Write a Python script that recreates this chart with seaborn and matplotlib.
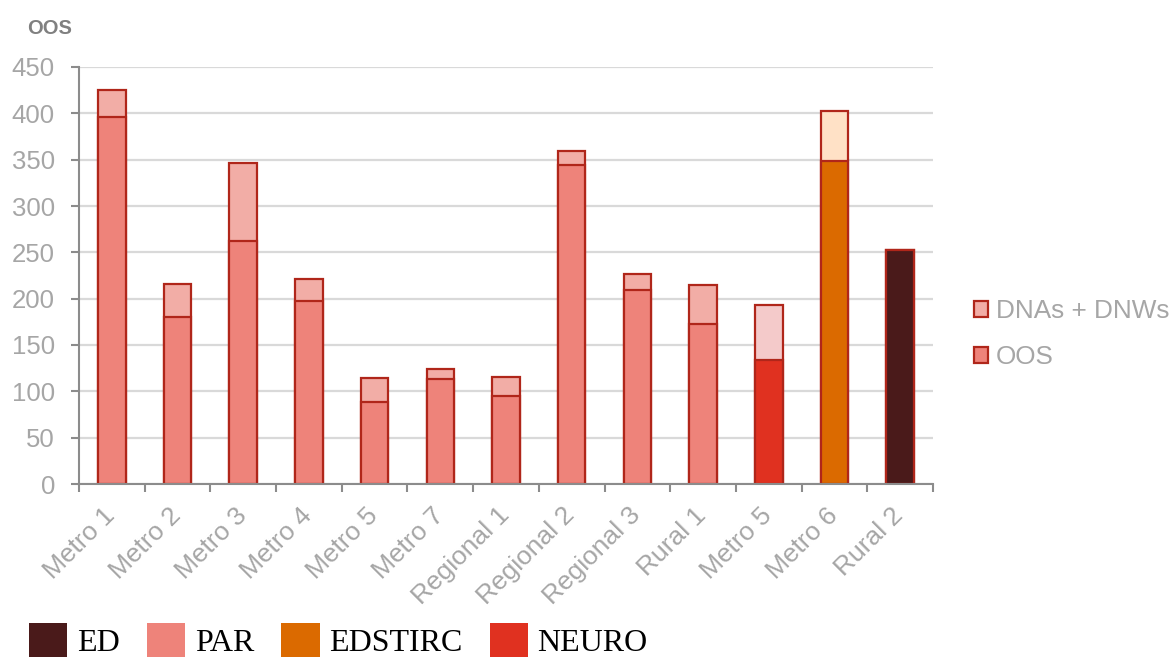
import matplotlib
matplotlib.use("Agg")
import matplotlib.pyplot as plt
import matplotlib.transforms as mtransforms
from matplotlib.patches import Patch
import seaborn as sns
import pandas as pd
import numpy as np

# ---- data ----
categories = ["Metro 1", "Metro 2", "Metro 3", "Metro 4", "Metro 5", "Metro 7",
              "Regional 1", "Regional 2", "Regional 3", "Rural 1", "Metro 5",
              "Metro 6", "Rural 2"]
oos_values = [396, 180, 262, 197, 88, 113, 95, 344, 209, 173, 134, 349, 252]
dna_values = [29, 36, 84, 24, 26, 11, 20, 15, 18, 42, 59, 54, 0]
groups = ["PAR"] * 10 + ["NEURO", "EDSTIRC", "ED"]
y_ticks = [0, 50, 100, 150, 200, 250, 300, 350, 400, 450]

main_colors = {"ED": "#4A1A1A", "PAR": "#EE837A", "EDSTIRC": "#DB6A00", "NEURO": "#E03120"}
dna_colors = {"ED": "#4A1A1A", "PAR": "#F2ADA6", "EDSTIRC": "#FFE1C6", "NEURO": "#F4CACA"}
edge = "#B0261A"

df = pd.DataFrame({
    "pos": list(range(len(categories))),
    "oos": oos_values,
    "total": [o + d for o, d in zip(oos_values, dna_values)],
    "group": groups,
})

sns.set_style("white")
plt.rcParams["font.family"] = ["Liberation Sans", "DejaVu Sans"]

fig = plt.figure(figsize=(11.73, 6.57), dpi=100)
ax = fig.add_axes([79 / 1173, 1 - 484 / 657, 854 / 1173, 417 / 657])

sns.barplot(data=df, x="pos", y="total", hue="group", palette=dna_colors,
            dodge=False, width=0.42, edgecolor=edge, linewidth=1.6,
            legend=False, ax=ax, errorbar=None, saturation=1)
sns.barplot(data=df, x="pos", y="oos", hue="group", palette=main_colors,
            dodge=False, width=0.42, edgecolor=edge, linewidth=1.6,
            legend=False, ax=ax, errorbar=None, saturation=1)

ax.set_xlim(-0.5, len(categories) - 0.5)
ax.set_ylim(0, 450)
ax.set_yticks(y_ticks)
ax.set_xlabel("")
ax.set_ylabel("")

grey_axis = "#8C8C8C"
tick_col = "#A6A6A6"
ax.set_axisbelow(True)
ax.yaxis.grid(True, color="#D9D9D9", linewidth=1.6)
ax.xaxis.grid(False)
for s in ["top", "right"]:
    ax.spines[s].set_visible(False)
for s in ["left", "bottom"]:
    ax.spines[s].set_color(grey_axis)
    ax.spines[s].set_linewidth(1.5)

ax.tick_params(axis="y", which="major", length=5.8, width=1.5, color=grey_axis,
               labelsize=18.5, labelcolor=tick_col, pad=11.5, left=True)

# x ticks: labels at bar centres, tick marks at category boundaries
ax.set_xticks(np.arange(len(categories)))
ax.set_xticklabels(categories, rotation=45, ha="right", va="baseline",
                   rotation_mode="anchor")
ax.set_xticks(np.arange(-0.5, len(categories), 1.0), minor=True)
ax.tick_params(axis="x", which="major", length=0, labelsize=19,
               labelcolor=tick_col, pad=23.5, bottom=True)
ax.tick_params(axis="x", which="minor", length=6, width=1.5, color=grey_axis,
               direction="out", bottom=True)
offset = mtransforms.ScaledTranslation(0.045, 0, fig.dpi_scale_trans)
for lab in ax.get_xticklabels():
    lab.set_transform(lab.get_transform() + offset)

# axis title
fig.text(27 / 1173, 1 - 34 / 657, "OOS", fontsize=14.5, fontweight="bold",
         color="#808080", ha="left", va="baseline")

# right legend (series)
series_handles = [
    Patch(facecolor=dna_colors["PAR"], edgecolor=edge, linewidth=1.6, label="DNAs + DNWs"),
    Patch(facecolor=main_colors["PAR"], edgecolor=edge, linewidth=1.6, label="OOS"),
]
leg1 = fig.legend(handles=series_handles, loc="upper left",
                  bbox_to_anchor=(974 / 1173, 1 - 299 / 657), frameon=False,
                  fontsize=18.8, handlelength=0.55, handleheight=0.55,
                  handletextpad=0.3, labelspacing=0.85, borderaxespad=0,
                  borderpad=0)
for t in leg1.get_texts():
    t.set_color(tick_col)

# bottom legend (groups)
group_order = ["ED", "PAR", "EDSTIRC", "NEURO"]
group_handles = [Patch(facecolor=main_colors[g], edgecolor="none", label=g) for g in group_order]
leg2 = fig.legend(handles=group_handles, loc="lower left", ncol=4,
                  bbox_to_anchor=(29 / 1173, -1 / 657), frameon=False,
                  prop={"family": "Liberation Serif", "size": 23},
                  handlelength=1.2, handleheight=1.25, handletextpad=0.3,
                  columnspacing=0.85, borderaxespad=0, borderpad=0)
for t in leg2.get_texts():
    t.set_color("black")

fig.savefig("out.png", dpi=100)
